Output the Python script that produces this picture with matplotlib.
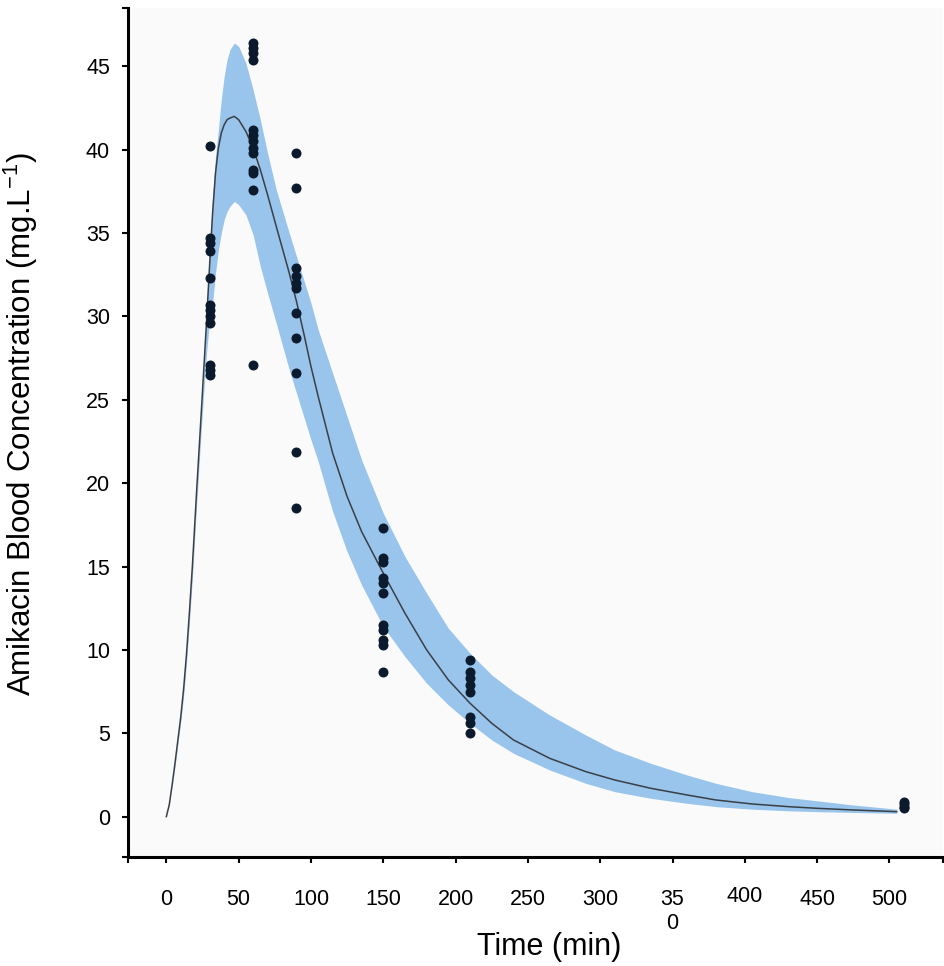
import matplotlib
matplotlib.use('Agg')
import matplotlib.pyplot as plt
import matplotlib.transforms as mtransforms

plt.rcParams['font.family'] = ['Liberation Sans', 'DejaVu Sans']
plt.rcParams['mathtext.fontset'] = 'custom'
plt.rcParams['mathtext.rm'] = 'Liberation Sans'

# model prediction (mean) and band
t_model = [0, 2, 4, 6, 8, 10, 12, 14, 16, 18, 21, 24, 26, 28, 30, 32, 34, 36, 38, 40, 42,
           44, 47, 50, 55, 60, 65, 70, 76, 85, 90, 95, 100, 105, 115, 125, 135, 150, 165,
           180, 195, 210, 225, 240, 265, 290, 310, 335, 360, 380, 405, 430, 450, 475, 505]
conc_mean = [0, 0.7, 1.9, 3.2, 4.6, 6.0, 7.7, 9.8, 12.3, 15.0, 19.6, 24.0, 27.0, 30.0,
             33.2, 36.2, 38.6, 40.1, 41.0, 41.5, 41.8, 41.9, 42.0, 41.8, 41.1, 40.1, 38.8,
             37.3, 35.4, 32.6, 30.9, 29.0, 27.0, 25.2, 21.8, 19.2, 17.1, 14.6, 12.2, 10.0,
             8.2, 6.8, 5.6, 4.6, 3.5, 2.7, 2.2, 1.7, 1.3, 1.0, 0.76, 0.6, 0.5, 0.4, 0.3]
conc_upper = [0, 0.7, 1.9, 3.2, 4.6, 6.0, 7.7, 9.8, 12.3, 15.0, 19.6, 24.0, 27.0, 30.4,
              34.0, 37.2, 39.6, 41.2, 43.0, 44.4, 45.4, 46.0, 46.4, 46.2, 45.2, 43.6, 41.8,
              39.8, 37.6, 35.0, 33.6, 32.2, 30.8, 29.2, 26.6, 24.0, 21.4, 18.2, 15.6, 13.4,
              11.3, 9.8, 8.5, 7.5, 6.1, 4.9, 4.0, 3.2, 2.5, 2.0, 1.5, 1.15, 0.95, 0.7, 0.45]
conc_lower = [0, 0.65, 1.8, 3.0, 4.4, 5.7, 7.3, 9.3, 11.7, 14.3, 18.8, 23.0, 25.6, 28.0,
              29.8, 30.8, 32.6, 34.0, 35.0, 35.8, 36.3, 36.6, 36.9, 36.7, 36.1, 34.9, 33.0,
              31.4, 29.6, 26.8, 25.4, 24.0, 22.6, 21.3, 18.3, 15.9, 13.9, 11.4, 9.6, 8.0,
              6.7, 5.6, 4.6, 3.8, 2.8, 2.0, 1.5, 1.1, 0.8, 0.6, 0.45, 0.35, 0.3, 0.25, 0.2]

# observed concentrations per sampling time
obs = {
    30: [40.2, 34.7, 34.4, 33.9, 32.3, 30.7, 30.4, 30.0, 29.6, 27.1, 26.8, 26.5],
    60: [46.4, 46.1, 45.8, 45.4, 41.2, 40.9, 40.5, 40.1, 39.8, 38.8, 38.6, 37.6, 27.1],
    90: [39.8, 37.7, 32.9, 32.4, 32.0, 31.7, 30.2, 28.7, 26.6, 21.9, 18.5],
    150: [17.3, 15.5, 15.3, 14.3, 14.0, 13.4, 11.5, 11.2, 10.6, 10.3, 8.7],
    210: [9.4, 8.7, 8.3, 7.9, 7.5, 6.0, 5.6, 5.0],
    510: [0.9, 0.75, 0.6, 0.5],
}

x_ticks = [0, 50, 100, 150, 200, 250, 300, 350, 400, 450, 500]
x_labels = ['0', '50', '100', '150', '200', '250', '300', '35\n0', '400', '450', '500']
y_ticks = [0, 5, 10, 15, 20, 25, 30, 35, 40, 45]

xmin, xmax = -26.5, 537
ymin, ymax = -2.42, 48.5

fig = plt.figure(figsize=(9.45, 9.66), dpi=100)
ax = fig.add_axes([128 / 945, 109 / 966, 815 / 945, 849 / 966])
ax.set_facecolor('#fafafa')

ax.fill_between(t_model, conc_lower, conc_upper, color='#99c4ec', linewidth=0, zorder=1)
ax.plot(t_model, conc_mean, color='#3a3f46', linewidth=1.1, zorder=2)

for t, vals in obs.items():
    ax.plot([t] * len(vals), vals, 'o', color='#0b1a2c', markersize=7.2,
            markeredgewidth=0, zorder=3)

ax.set_xlim(xmin, xmax)
ax.set_ylim(ymin, ymax)

ax.set_xticks([xmin] + x_ticks + [xmax])
ax.set_xticklabels([''] + x_labels + [''])
ax.set_yticks([ymin] + y_ticks + [ymax])
ax.set_yticklabels([''] + [str(v) for v in y_ticks] + [''])

ax.tick_params(axis='x', direction='out', length=4, width=1.5, pad=19, labelsize=15.5)
ax.tick_params(axis='y', direction='out', length=4, width=1.5, pad=9, labelsize=15.5)

# '400' sits a little higher in the original
for lab in ax.get_xticklabels():
    if lab.get_text() == '400':
        lab.set_transform(lab.get_transform() +
                          mtransforms.ScaledTranslation(0, 3 / 100, fig.dpi_scale_trans))

for side in ['top', 'right']:
    ax.spines[side].set_visible(False)
for side in ['left', 'bottom']:
    ax.spines[side].set_linewidth(2.2)
    ax.spines[side].set_color('black')

ax.set_xlabel('Time (min)', fontsize=22, va='center')
ax.xaxis.set_label_coords(0.517, -0.106)
ax.set_ylabel('Amikacin Blood Concentration (mg.L$^{\\mathregular{-1}}$)',
              fontsize=22.5, va='center')
ax.yaxis.set_label_coords(-0.131, 0.51)

plt.savefig('out.png', dpi=100)
plt.close()
